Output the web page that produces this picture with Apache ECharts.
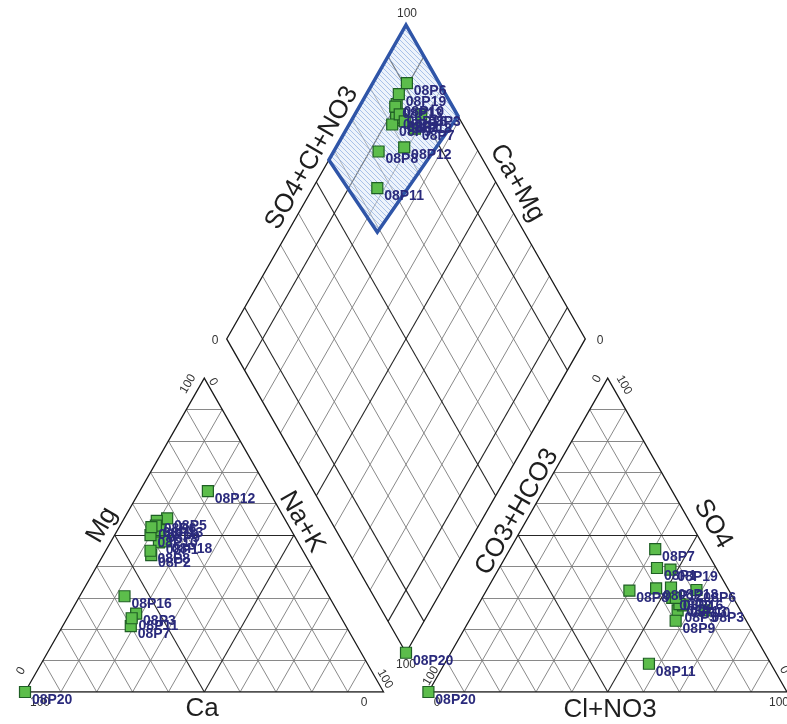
<!DOCTYPE html>
<html>
<head>
<meta charset="utf-8">
<script src="https://cdn.jsdelivr.net/npm/echarts@6/dist/echarts.min.js"></script>
<style>
  html, body { margin: 0; padding: 0; background: #fff; }
  #chart { width: 787px; height: 724px; }
</style>
</head>
<body>
<div id="chart"></div>
<script>
// samples (meq %), cations and anions
const sampleNames = ["08P1", "08P2", "08P3", "08P5", "08P6", "08P7", "08P8", "08P9", "08P10", "08P11", "08P12", "08P13", "08P16", "08P18", "08P19", "08P20"];
const ca   = [38.8, 43.0, 56.5, 32.7, 36.0, 60.0, 42.5, 36.4, 40.0, 58.5, 17.0, 37.0, 57.0, 37.0, 38.5, 0];
const mg   = [47.7, 43.6, 25.0, 55.3, 54.5, 21.0, 45.0, 51.6, 50.0, 23.5, 64.0, 53.0, 30.5, 48.0, 52.5, 0];
const nak  = [13.5, 13.4, 18.5, 12.0, 9.5, 19.0, 12.5, 12.0, 10.0, 18.0, 19.0, 10.0, 12.5, 15.0, 9.0, 0];
const hco3 = [16.5, 17.0, 10.0, 17.5, 9.0, 14.0, 27.8, 19.7, 15.2, 34.0, 20.0, 16.0, 16.0, 15.7, 13.0, 0];
const cl   = [44.0, 53.0, 64.0, 56.5, 58.5, 40.5, 39.9, 57.6, 57.2, 57.0, 47.0, 56.0, 54.0, 51.0, 48.0, 0];
const so4  = [39.5, 30.0, 26.0, 26.0, 32.5, 45.5, 32.3, 22.7, 27.6, 9.0, 33.0, 28.0, 30.0, 33.3, 39.0, 0];

const gridTicks = [10, 20, 30, 40, 50, 60, 70, 80, 90];
const darkTriTicks = [50];
const darkDiamondTicks = [10, 50, 90];

// highlighted field in the diamond: Ca+Mg % and SO4+Cl+NO3 % at its corners
const zoneCaMg = [100, 71, 75, 100];
const zoneAnion = [100, 100, 59, 57];

const G = 12.5; // gap between the triangles, % of a side
const H = Math.sqrt(3) / 2;

function cationXY(c, m, n) { return [n + m / 2, m * H]; }
function anionXY(h, c, s) { return [100 + G + c + s / 2, s * H]; }
function diamondXY(cm, a) { return [100 + G / 2 + (a - cm) / 2, H * (G + cm + a)]; }

const lightSegs = [];
const darkSegs = [];
for (const t of gridTicks) {
  const tri = darkTriTicks.includes(t) ? darkSegs : lightSegs;
  tri.push([cationXY(100 - t, t, 0), cationXY(0, t, 100 - t)]);
  tri.push([cationXY(100 - t, 0, t), cationXY(0, 100 - t, t)]);
  tri.push([cationXY(t, 100 - t, 0), cationXY(t, 0, 100 - t)]);
  tri.push([anionXY(100 - t, 0, t), anionXY(0, 100 - t, t)]);
  tri.push([anionXY(100 - t, t, 0), anionXY(0, t, 100 - t)]);
  tri.push([anionXY(t, 100 - t, 0), anionXY(t, 0, 100 - t)]);
  const dia = darkDiamondTicks.includes(t) ? darkSegs : lightSegs;
  dia.push([diamondXY(0, t), diamondXY(100, t)]);
  dia.push([diamondXY(t, 0), diamondXY(t, 100)]);
}
const outlines = [
  [cationXY(100, 0, 0), cationXY(0, 0, 100), cationXY(0, 100, 0), cationXY(100, 0, 0)],
  [anionXY(100, 0, 0), anionXY(0, 100, 0), anionXY(0, 0, 100), anionXY(100, 0, 0)],
  [diamondXY(0, 0), diamondXY(0, 100), diamondXY(100, 100), diamondXY(100, 0), diamondXY(0, 0)],
];

// light blue hatch for the highlighted field
const hatch = document.createElement("canvas");
hatch.width = 5;
hatch.height = 5;
const hctx = hatch.getContext("2d");
hctx.fillStyle = "rgba(215,228,246,0.45)";
hctx.fillRect(0, 0, 5, 5);
hctx.strokeStyle = "rgba(120,160,220,0.75)";
hctx.lineWidth = 0.8;
hctx.beginPath();
hctx.moveTo(0, 0);
hctx.lineTo(5, 5);
hctx.stroke();

const chart = echarts.init(document.getElementById("chart"));

const labelStyle = {
  show: true,
  formatter: (p) => p.name,
  position: [13, 14],
  align: "left",
  verticalAlign: "middle",
  color: "#2a2a7c",
  fontWeight: "bold",
  fontSize: 14,
  fontFamily: "Liberation Sans, Arial, sans-serif",
};

function sampleSeries(points) {
  return {
    type: "scatter",
    symbol: "rect",
    symbolSize: 11,
    clip: false,
    z: 5,
    itemStyle: { color: "#5cbd4b", borderColor: "#1f5f25", borderWidth: 1.2, opacity: 1 },
    label: labelStyle,
    data: sampleNames.map((name, i) => ({ name, value: points[i] })),
  };
}

const option = {
  animation: false,
  grid: { left: 25, top: 25, width: 765, height: 667 },
  xAxis: { type: "value", min: 0, max: 200 + G, show: false },
  yAxis: { type: "value", min: 0, max: H * (200 + G), show: false },
  series: [
    {
      type: "lines",
      coordinateSystem: "cartesian2d",
      silent: true,
      z: 1,
      lineStyle: { color: "#7c7c7c", width: 0.9, opacity: 1 },
      data: lightSegs.map((coords) => ({ coords })),
    },
    {
      type: "lines",
      coordinateSystem: "cartesian2d",
      silent: true,
      z: 2,
      lineStyle: { color: "#262626", width: 1.1, opacity: 1 },
      data: darkSegs.map((coords) => ({ coords })),
    },
    {
      type: "lines",
      coordinateSystem: "cartesian2d",
      polyline: true,
      silent: true,
      z: 2,
      lineStyle: { color: "#1a1a1a", width: 1.3, opacity: 1 },
      data: outlines.map((coords) => ({ coords })),
    },
    {
      type: "custom",
      coordinateSystem: "cartesian2d",
      silent: true,
      clip: false,
      z: 3,
      data: [[0, 0]],
      renderItem: (params, api) => ({
        type: "polygon",
        shape: { points: zoneCaMg.map((cm, i) => api.coord(diamondXY(cm, zoneAnion[i]))) },
        style: { fill: { image: hatch, repeat: "repeat" }, stroke: "#2f55a8", lineWidth: 3.5 },
      }),
    },
    sampleSeries(sampleNames.map((_, i) => cationXY(ca[i], mg[i], nak[i]))),
    sampleSeries(sampleNames.map((_, i) => anionXY(hco3[i], cl[i], so4[i]))),
    sampleSeries(sampleNames.map((_, i) => diamondXY(ca[i] + mg[i], cl[i] + so4[i]))),
  ],
};
chart.setOption(option);

// tick labels and axis names
const FONT = "Liberation Sans, Arial, sans-serif";
function txt(x, y, text, size, deg) {
  return {
    type: "text",
    x, y,
    rotation: ((deg || 0) * Math.PI) / 180,
    z: 4,
    style: {
      text,
      font: `${size}px ${FONT}`,
      fill: size > 14 ? "#1e1e1e" : "#333",
      textAlign: "center",
      textVerticalAlign: "middle",
      align: "center",
      verticalAlign: "middle",
    },
  };
}
chart.setOption({
  graphic: [
    // left triangle
    txt(188, 384, "100", 12, 60),
    txt(21, 671, "0", 12, 60),
    txt(213, 382, "0", 12, -60),
    txt(385, 679, "100", 12, -60),
    txt(40, 703, "100", 12, 0),
    txt(364, 703, "0", 12, 0),
    // right triangle
    txt(597, 379, "0", 12, 60),
    txt(624, 385, "100", 12, -60),
    txt(431, 676, "100", 12, 60),
    txt(784, 670, "0", 12, -60),
    txt(437, 703, "0", 12, 0),
    txt(779, 703, "100", 12, 0),
    // diamond
    txt(407, 14, "100", 12, 0),
    txt(215, 341, "0", 12, 0),
    txt(600, 341, "0", 12, 0),
    txt(406, 665, "100", 12, 0),
    // axis names
    txt(102, 525, "Mg", 26, 60),
    txt(302, 522, "Na+K", 26, -60),
    txt(202, 709, "Ca", 26, 0),
    txt(517, 512, "CO3+HCO3", 26, 60),
    txt(713, 524, "SO4", 26, -60),
    txt(610, 710, "Cl+NO3", 26, 0),
    txt(312, 158, "SO4+Cl+NO3", 26, 60),
    txt(517, 183, "Ca+Mg", 26, -60),
  ],
});

window.addEventListener("resize", () => {
  chart.resize();
});
</script>
</body>
</html>
